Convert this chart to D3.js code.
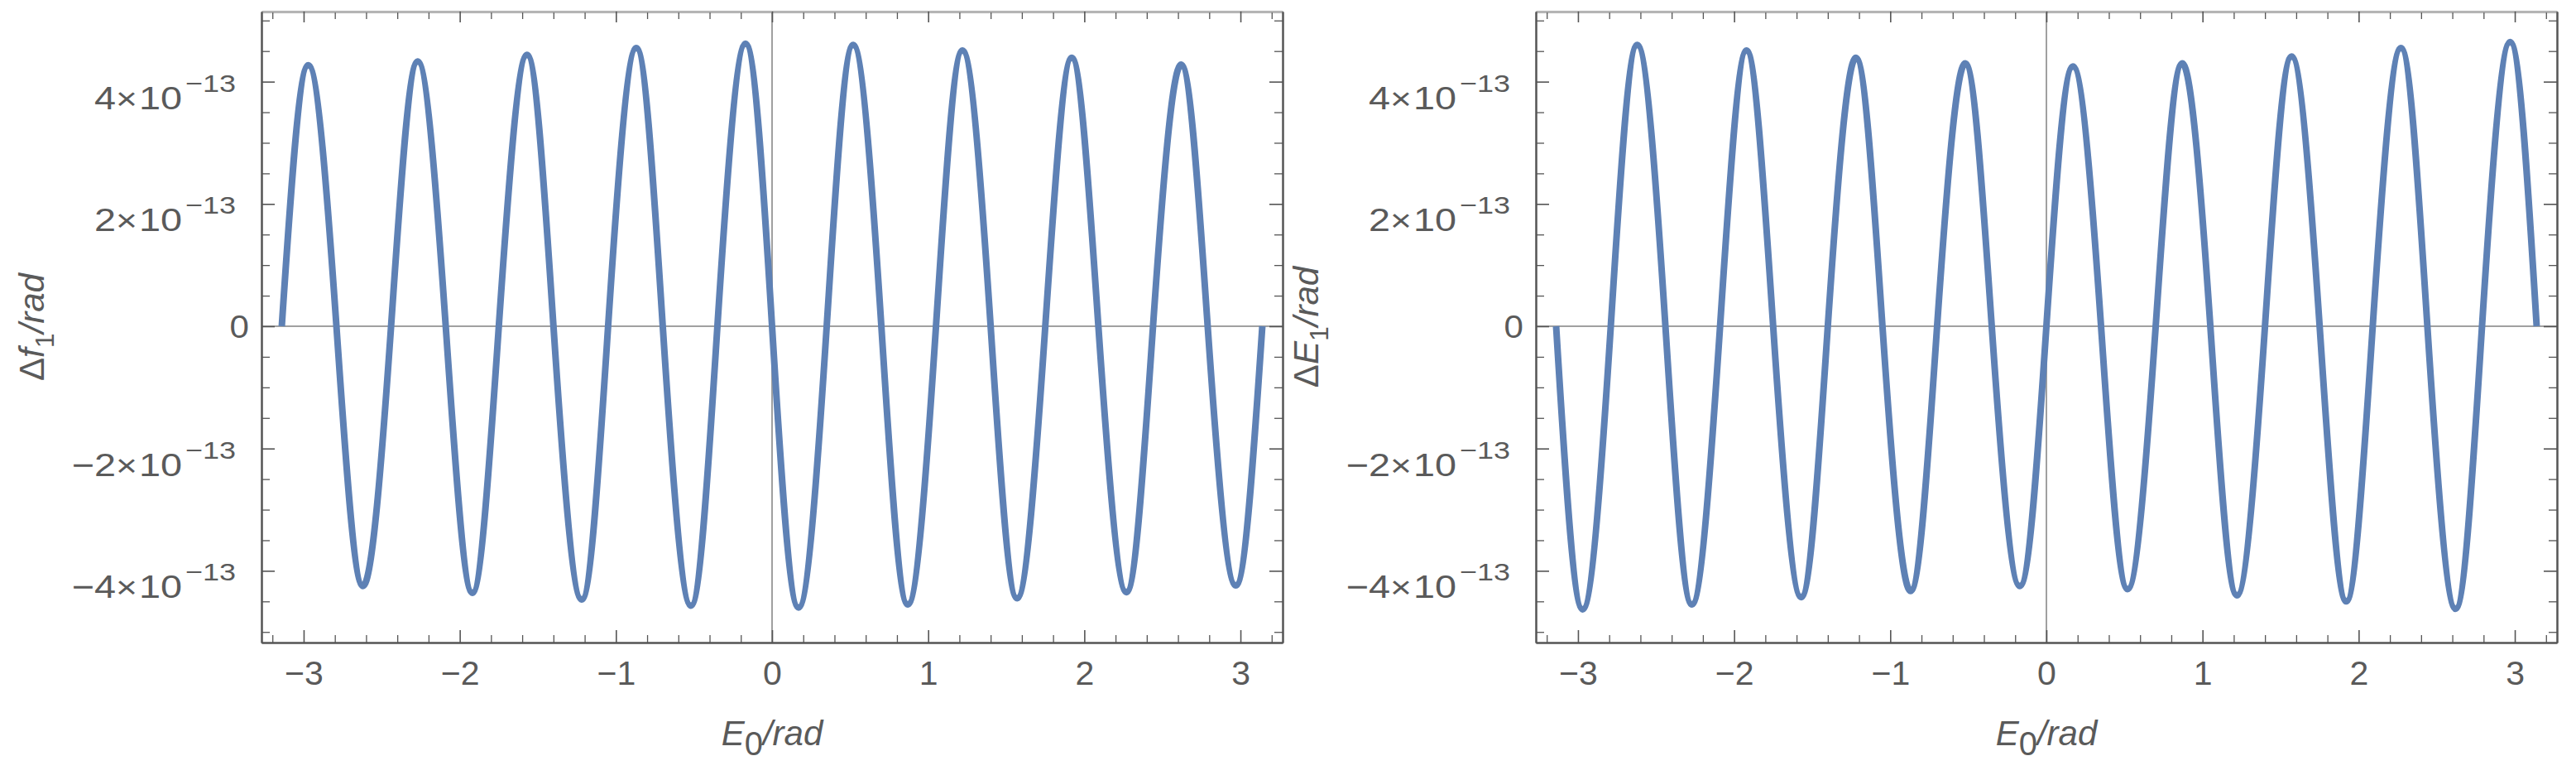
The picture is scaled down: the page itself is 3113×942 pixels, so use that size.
<!DOCTYPE html>
<html>
<head>
<meta charset="utf-8">
<script src="https://cdn.jsdelivr.net/npm/d3@7"></script>
<style>
    html, body { margin: 0; padding: 0; background: #fff; }
    svg { display: block; }
    text { font-family: "Liberation Sans", Arial, sans-serif; fill: #5a5a5a; }
</style>
</head>
<body>
<svg id="chart"></svg>
<script>
// E0 (rad) at the zero crossings and extrema
var e0 = [-3.14, -2.97, -2.79, -2.62, -2.44, -2.27, -2.09, -1.92, -1.75, -1.57,
    -1.40, -1.22, -1.05, -0.87, -0.70, -0.52, -0.35, -0.17, 0, 0.17,
    0.35, 0.52, 0.70, 0.87, 1.05, 1.22, 1.40, 1.57, 1.75, 1.92,
    2.09, 2.27, 2.44, 2.62, 2.79, 2.97, 3.14];

// delta f1, in units of 1e-13 rad
var df1 = [0, 4.27, 0, -4.25, 0, 4.33, 0, -4.36, 0, 4.44,
    0, -4.47, 0, 4.55, 0, -4.57, 0, 4.62, 0, -4.60,
    0, 4.60, 0, -4.55, 0, 4.51, 0, -4.45, 0, 4.39,
    0, -4.35, 0, 4.28, 0, -4.24, 0];

// delta E1, in units of 1e-13 rad
var dE1 = [0, -4.63, 0, 4.60, 0, -4.55, 0, 4.51, 0, -4.43,
    0, 4.39, 0, -4.33, 0, 4.30, 0, -4.25, 0, 4.25,
    0, -4.30, 0, 4.30, 0, -4.40, 0, 4.41, 0, -4.50,
    0, 4.55, 0, -4.62, 0, 4.65, 0];

var xMajor = [-3, -2, -1, 0, 1, 2, 3];
var xLabels = ["\u22123", "\u22122", "\u22121", "0", "1", "2", "3"];
var xMinor = [-3.2, -2.8, -2.6, -2.4, -2.2, -1.8, -1.6, -1.4, -1.2, -0.8, -0.6, -0.4, -0.2,
    0.2, 0.4, 0.6, 0.8, 1.2, 1.4, 1.6, 1.8, 2.2, 2.4, 2.6, 2.8, 3.2];
var yMajor = [-4, -2, 0, 2, 4];
var yMantissa = ["\u22124", "\u22122", "0", "2", "4"];
var yExponent = "\u221213";
var yMinor = [-5, -4.5, -3.5, -3, -2.5, -1.5, -1, -0.5, 0.5, 1, 1.5, 2.5, 3, 3.5, 4.5, 5];

var W = 3113, H = 942;
var frameColor = "#555",
    lineColor = "#5e81b5";

function Panel() {
    var width,
        height,
        xScale = d3.scaleLinear().domain([-3.27, 3.27]),
        yScale = d3.scaleLinear().domain([-5.173, 5.146]),
        yTitle;

    function styleAxis(g, major) {
        g.attr("font-size", null).attr("font-family", null);
        g.select(".domain").attr("stroke", frameColor).attr("stroke-width", 2);
        g.selectAll(".tick line").attr("stroke", frameColor).attr("stroke-width", major ? 1.6 : 1.3);
    }

    function my(selection) {
        selection.each(function (data) {
            var g = d3.select(this);

            xScale.range([0, width]);
            yScale.range([height, 0]);

            // axes through zero
            g.append("line")
                .attr("x1", 0).attr("x2", width)
                .attr("y1", yScale(0)).attr("y2", yScale(0))
                .attr("stroke", "#808080").attr("stroke-width", 1.5);
            g.append("line")
                .attr("x1", xScale(0)).attr("x2", xScale(0))
                .attr("y1", 0).attr("y2", height)
                .attr("stroke", "#808080").attr("stroke-width", 1.5);

            var line = d3.line()
                .x(function (d) { return xScale(d.e); })
                .y(function (d) { return yScale(d.v); })
                .curve(d3.curveNatural);

            g.append("path")
                .datum(data)
                .attr("d", line)
                .attr("fill", "none")
                .attr("stroke", lineColor)
                .attr("stroke-width", 8)
                .attr("stroke-linejoin", "round");

            // frame: bottom
            g.append("g")
                .attr("transform", "translate(0," + height + ")")
                .call(d3.axisBottom(xScale).tickValues(xMinor).tickSize(-9).tickSizeOuter(0).tickFormat(""))
                .call(styleAxis, false);
            var bottom = g.append("g")
                .attr("transform", "translate(0," + height + ")")
                .call(d3.axisBottom(xScale).tickValues(xMajor).tickSize(-15).tickSizeOuter(0)
                    .tickFormat(function (d, i) { return xLabels[i]; }))
                .call(styleAxis, true);
            bottom.selectAll("text")
                .attr("y", 51).attr("dy", null)
                .style("font-size", "41px");

            // frame: top
            g.append("g")
                .call(d3.axisTop(xScale).tickValues(xMinor).tickSize(-9).tickSizeOuter(0).tickFormat(""))
                .call(styleAxis, false);
            g.append("g")
                .call(d3.axisTop(xScale).tickValues(xMajor).tickSize(-13).tickSizeOuter(0).tickFormat(""))
                .call(styleAxis, true)
                .select(".domain").attr("stroke", "#c4c4c4").attr("stroke-width", 1.2);

            // frame: left
            g.append("g")
                .call(d3.axisLeft(yScale).tickValues(yMinor).tickSize(-10).tickSizeOuter(0).tickFormat(""))
                .call(styleAxis, false);
            g.append("g")
                .call(d3.axisLeft(yScale).tickValues(yMajor).tickSize(-16).tickSizeOuter(0).tickFormat(""))
                .call(styleAxis, true);

            // frame: right
            g.append("g")
                .attr("transform", "translate(" + width + ",0)")
                .call(d3.axisRight(yScale).tickValues(yMinor).tickSize(-10).tickSizeOuter(0).tickFormat(""))
                .call(styleAxis, false);
            g.append("g")
                .attr("transform", "translate(" + width + ",0)")
                .call(d3.axisRight(yScale).tickValues(yMajor).tickSize(-16).tickSizeOuter(0).tickFormat(""))
                .call(styleAxis, true);

            // y tick labels  m×10^-13
            var labels = g.append("g");
            yMajor.forEach(function (v, i) {
                var ty = yScale(v);
                if (yMantissa[i] === "0") {
                    labels.append("text")
                        .attr("transform", "translate(-15," + (ty + 14) + ") scale(1.08,1)")
                        .attr("text-anchor", "end")
                        .style("font-size", "39px")
                        .text(yMantissa[i]);
                    return;
                }
                var pieces = [
                    {t: yMantissa[i], x: -176, dy: 33, a: "end", s: 39},
                    {t: "\u00d7", x: -163, dy: 33, a: "middle", s: 37},
                    {t: "10", x: -96, dy: 33, a: "end", s: 39},
                    {t: yExponent, x: -31, dy: 12, a: "end", s: 30}
                ];
                pieces.forEach(function (p) {
                    labels.append("text")
                        .attr("transform", "translate(" + p.x + "," + (ty + p.dy) + ") scale(1.2,1)")
                        .attr("text-anchor", p.a)
                        .style("font-size", p.s + "px")
                        .text(p.t);
                });
            });

            // x title
            var xt = g.append("text")
                .attr("x", width / 2)
                .attr("y", 886)
                .attr("text-anchor", "middle")
                .style("font-size", "42px");
            xt.append("tspan").style("font-style", "italic").text("E");
            xt.append("tspan").attr("dy", 12).style("font-size", "40px").text("0");
            xt.append("tspan").attr("dy", -12).style("font-style", "italic").text("/rad");

            // y title
            var yt = g.append("text")
                .attr("transform", "translate(-263," + (height / 2) + ") rotate(-90)")
                .attr("text-anchor", "middle")
                .style("font-size", "42px");
            yt.append("tspan").text("\u0394");
            yt.append("tspan").style("font-style", "italic").text(yTitle);
            yt.append("tspan").attr("dy", 12).style("font-size", "32px").text("1");
            yt.append("tspan").attr("dy", -12).style("font-style", "italic").text("/rad");
        });
    }

    my.width = function (_) {
        return arguments.length ? (width = _, my) : width;
    };

    my.height = function (_) {
        return arguments.length ? (height = _, my) : height;
    };

    my.yTitle = function (_) {
        return arguments.length ? (yTitle = _, my) : yTitle;
    };

    return my;
}

var svg = d3.select("#chart")
    .attr("width", W)
    .attr("height", H);

svg.append("rect").attr("width", W).attr("height", H).attr("fill", "#fff");

function rows(values) {
    return e0.map(function (e, i) {
        return {e: e, v: values[i]};
    });
}

var panels = [
    {left: 316, values: df1, title: "f"},
    {left: 1856, values: dE1, title: "E"}
];

panels.forEach(function (p) {
    var chart = Panel().width(1234).height(762).yTitle(p.title);
    svg.append("g")
        .attr("transform", "translate(" + p.left + ",14)")
        .datum(rows(p.values))
        .call(chart);
});
</script>
</body>
</html>
